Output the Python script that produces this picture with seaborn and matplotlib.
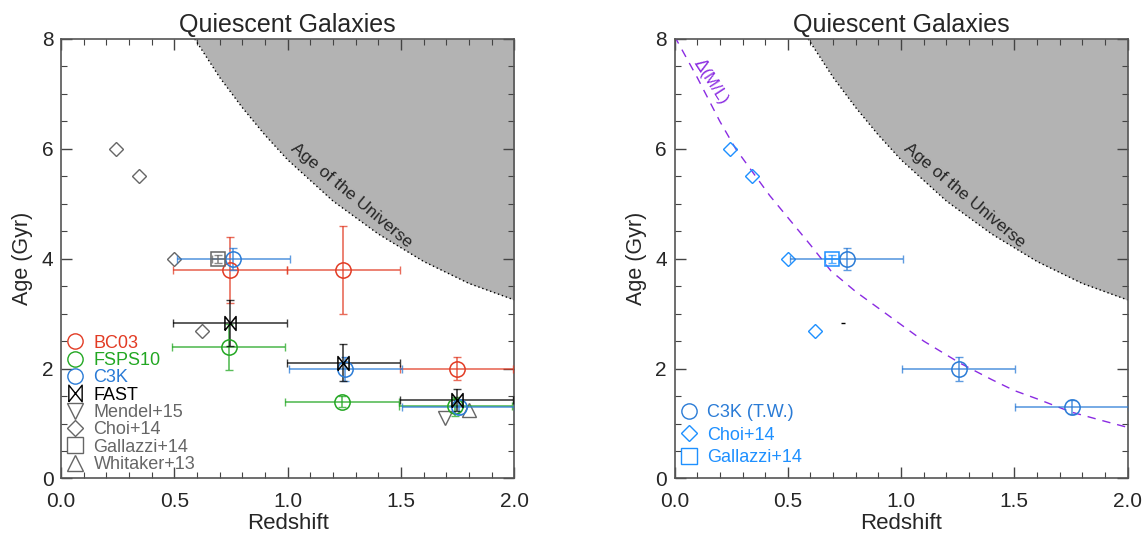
import numpy as np
import matplotlib
matplotlib.use('Agg')
import matplotlib.pyplot as plt
from matplotlib.path import Path
from matplotlib.lines import Line2D
import seaborn as sns

# ---- data ----
# age of the universe boundary (z, Gyr)
z_universe = [0.59, 0.7, 0.8, 0.9, 1.0, 1.2, 1.4, 1.6, 1.8, 2.0]
age_universe = [8.0, 7.3, 6.75, 6.25, 5.8, 5.05, 4.45, 3.95, 3.55, 3.25]

# left panel: SPS library fits
z_bc03 = [0.745, 1.245, 1.745]
age_bc03 = [3.8, 3.8, 2.0]
ageerr_bc03 = [0.6, 0.8, 0.21]

z_fsps = [0.74, 1.24, 1.74]
age_fsps = [2.4, 1.4, 1.31]
ageerr_fsps = [0.42, 0.1, 0.18]

z_c3k = [0.76, 1.255, 1.755]
age_c3k = [4.0, 2.0, 1.3]
ageerr_c3k = [0.2, 0.22, 0.13]

z_fast = [0.745, 1.245, 1.745]
age_fast = [2.83, 2.11, 1.42]
ageerr_fast = [0.42, 0.34, 0.2]

zbin_halfwidth = [0.25, 0.25, 0.25]

# literature
z_choi = [0.243, 0.344, 0.50, 0.62]
age_choi = [6.0, 5.5, 4.0, 2.69]
z_gallazzi = [0.694]
age_gallazzi = [4.0]
z_mendel = [1.694]
age_mendel = [1.1]
z_whitaker = [1.80]
age_whitaker = [1.24]

# right panel: Delta(M/L) track
z_ml = [0.0, 0.1, 0.2, 0.27, 0.42, 0.5, 0.6, 0.69, 0.8, 0.88, 1.0, 1.1, 1.26,
        1.4, 1.5, 1.6, 1.75, 1.9, 2.0]
age_ml = [8.05, 7.3, 6.5, 6.0, 5.15, 4.75, 4.25, 3.78, 3.4, 3.16, 2.8, 2.5, 2.1,
          1.8, 1.6, 1.45, 1.21, 1.04, 0.93]

RED = '#e23b24'
GREEN = '#22a722'
BLUE = '#2a7bd6'
LBLUE = '#1e90ff'
GRAY = '#666666'
PURPLE = '#8a2be2'

bowtie = Path([(-0.8, -1), (-0.8, 1), (0.8, -1), (0.8, 1), (-0.8, -1)],
              [Path.MOVETO, Path.LINETO, Path.LINETO, Path.LINETO, Path.LINETO])

sns.set_style('ticks')
plt.rcParams['font.family'] = ['Liberation Sans', 'DejaVu Sans']

fig = plt.figure(figsize=(11.47, 5.34), dpi=100)
ax1 = fig.add_axes([0.0532, 0.104, 0.3952, 0.823])
ax2 = fig.add_axes([0.5881, 0.104, 0.3950, 0.823])


def frame(ax):
    ax.set_xlim(0, 2)
    ax.set_ylim(0, 8)
    ax.set_xticks([0, 0.5, 1.0, 1.5, 2.0])
    ax.set_xticklabels(['0.0', '0.5', '1.0', '1.5', '2.0'])
    ax.set_yticks([0, 2, 4, 6, 8])
    ax.set_xticks(np.arange(0, 2.01, 0.1), minor=True)
    ax.set_yticks(np.arange(0, 8.01, 0.5), minor=True)
    ax.tick_params(direction='in', which='both', top=True, right=True,
                   labelsize=15, color='#444444')
    ax.tick_params(which='major', length=8, width=1)
    ax.tick_params(which='minor', length=4, width=0.8)
    ax.tick_params(axis='x', pad=10)
    ax.tick_params(axis='y', pad=5.5)
    for s in ax.spines.values():
        s.set_color('#555555')
        s.set_linewidth(1.2)
    ax.set_xlabel('Redshift', fontsize=16, labelpad=1)
    ax.set_ylabel('Age (Gyr)', fontsize=15.5, labelpad=6)
    ax.set_title('Quiescent Galaxies', fontsize=18, pad=5)
    # age of the universe
    ax.fill_between(z_universe, age_universe, 8, color='#b3b3b3', lw=0, zorder=0)
    sns.lineplot(x=z_universe, y=age_universe, ax=ax, color='black', lw=1,
                 linestyle=(0, (1, 2)), zorder=1)
    ax.text(1.28, 5.15, 'Age of the Universe', rotation=-40, rotation_mode='anchor',
            ha='center', va='center', fontsize=12.5)


def points(ax, z, age, yerr, color, marker, ms, xerr=None):
    ax.errorbar(z, age, xerr=xerr, yerr=yerr, fmt='none', ecolor=color, alpha=0.75,
                elinewidth=1.2, capsize=3, zorder=3)
    ax.plot(z, age, ls='none', marker=marker, ms=ms, mfc='none', mec=color,
            mew=1.1, zorder=4)


frame(ax1)
points(ax1, z_bc03, age_bc03, ageerr_bc03, RED, 'o', 11, zbin_halfwidth)
points(ax1, z_fsps, age_fsps, ageerr_fsps, GREEN, 'o', 11, zbin_halfwidth)
points(ax1, z_c3k, age_c3k, ageerr_c3k, BLUE, 'o', 11, zbin_halfwidth)
points(ax1, z_fast, age_fast, ageerr_fast, 'black', bowtie, 10, zbin_halfwidth)
points(ax1, z_gallazzi, age_gallazzi, [0.07], GRAY, 's', 10, [0.03])
ax1.plot(z_choi, age_choi, ls='none', marker='D', ms=7.5, mfc='none', mec=GRAY, mew=1)
ax1.plot(z_mendel, age_mendel, ls='none', marker='v', ms=10, mfc='none', mec=GRAY, mew=1)
ax1.plot(z_whitaker, age_whitaker, ls='none', marker='^', ms=10, mfc='none', mec=GRAY, mew=1)

labels1 = ['BC03', 'FSPS10', 'C3K', 'FAST', 'Mendel+15', 'Choi+14', 'Gallazzi+14', 'Whitaker+13']
cols1 = [RED, GREEN, BLUE, 'black', GRAY, GRAY, GRAY, GRAY]
marks1 = ['o', 'o', 'o', bowtie, 'v', 'D', 's', '^']
sizes1 = [11, 11, 11, 12, 11, 8.5, 11, 11]
h1 = [Line2D([], [], ls='none', marker=m, ms=s, mfc='none', mec=c, mew=1)
      for m, s, c in zip(marks1, sizes1, cols1)]
ax1.legend(h1, labels1, labelcolor=cols1, loc='lower left', frameon=False,
           fontsize=13, labelspacing=0.02, handlelength=1.0, handletextpad=0.5,
           borderaxespad=0, borderpad=0.3, bbox_to_anchor=(0, 0))

frame(ax2)
sns.lineplot(x=z_ml, y=age_ml, ax=ax2, color=PURPLE, lw=1, linestyle=(0, (6, 5)), zorder=2)
ax2.text(0.163, 7.24, r'$\Delta$(M/L)', rotation=-57, rotation_mode='anchor',
         ha='center', va='center', fontsize=12, color=PURPLE)
points(ax2, z_c3k, age_c3k, ageerr_c3k, BLUE, 'o', 11, zbin_halfwidth)
points(ax2, z_gallazzi, age_gallazzi, [0.07], LBLUE, 's', 10, [0.03])
ax2.plot(z_choi, age_choi, ls='none', marker='D', ms=7.5, mfc='none', mec=LBLUE, mew=1)
ax2.plot([z_fast[0]], [age_fast[0]], ls='none', marker='_', ms=3, color='black')

labels2 = ['C3K (T.W.)', 'Choi+14', 'Gallazzi+14']
cols2 = [BLUE, LBLUE, LBLUE]
h2 = [Line2D([], [], ls='none', marker=m, ms=s, mfc='none', mec=c, mew=1)
      for m, s, c in zip(['o', 'D', 's'], [11, 8, 11], cols2)]
ax2.legend(h2, labels2, labelcolor=cols2, loc='lower left', frameon=False,
           fontsize=13, labelspacing=0.3, handlelength=1.0, handletextpad=0.5,
           borderaxespad=0, borderpad=0.3, bbox_to_anchor=(0, 0.016))

fig.savefig('out.png', dpi=100)
